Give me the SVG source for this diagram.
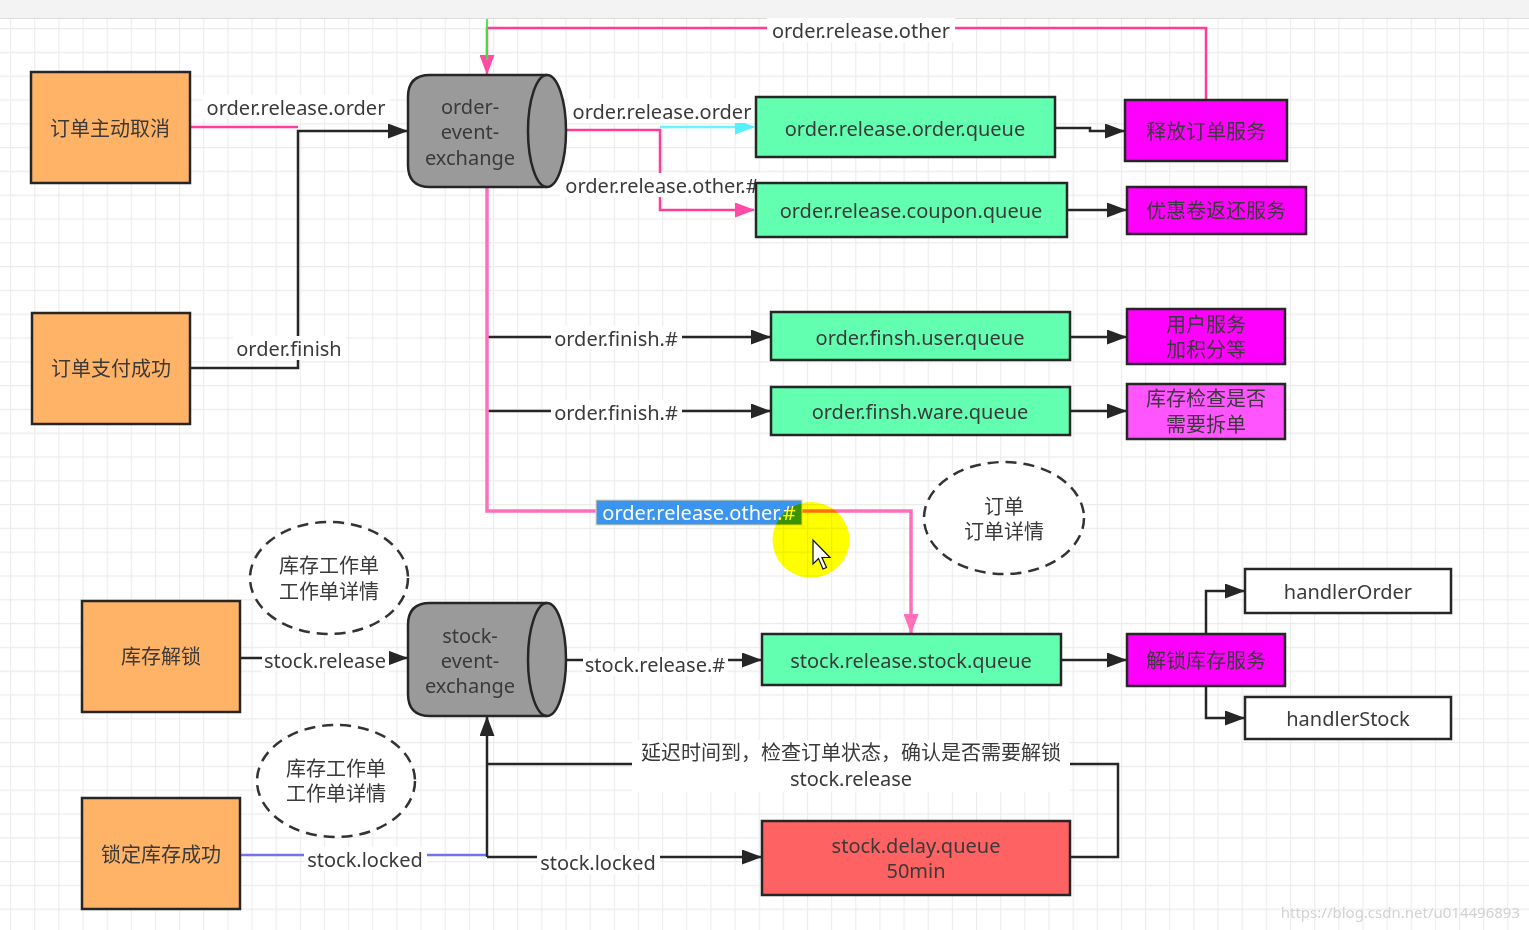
<svg xmlns="http://www.w3.org/2000/svg" width="1529" height="930" viewBox="0 0 1529 930">
<style>
.t{font-family:"Noto Sans","Noto Sans CJK SC",sans-serif;font-size:20px;fill:#3a3a3a;text-anchor:middle;dominant-baseline:central}
.box{stroke:#262626;stroke-width:2.5}
.or{fill:#FFB366}.gr{fill:#63FFB0}.mg{fill:#FF00FF}.mg2{fill:#FF55FF}.rd{fill:#FF6262}.wh{fill:#fff}.cy{fill:#9a9a9a}
.e{fill:none;stroke:#262626;stroke-width:2.5}
.pk{fill:none;stroke:#FF3D99;stroke-width:2.5}
.lb{fill:#fff}
.dash{fill:#fff;stroke:#333;stroke-width:2.5;stroke-dasharray:11 7}
</style>
<defs>
<pattern id="grid" x="10" y="28" width="24.15" height="23.8" patternUnits="userSpaceOnUse">
<path d="M0 0.5H24.15M0.5 0V23.8" stroke="#ececec" stroke-width="1.3" fill="none"/>
</pattern>
<marker id="ab" viewBox="0 0 20 15" refX="19" refY="7.5" markerWidth="20" markerHeight="15" markerUnits="userSpaceOnUse" orient="auto"><path d="M0,0L20,7.5L0,15z" fill="#262626"/></marker>
<marker id="ap" viewBox="0 0 20 15" refX="19" refY="7.5" markerWidth="20" markerHeight="15" markerUnits="userSpaceOnUse" orient="auto"><path d="M0,0L20,7.5L0,15z" fill="#FF4DA6"/></marker>
<marker id="ap2" viewBox="0 0 20 15" refX="19" refY="7.5" markerWidth="20" markerHeight="15" markerUnits="userSpaceOnUse" orient="auto"><path d="M0,0L20,7.5L0,15z" fill="#FF70B8"/></marker>
<marker id="ac" viewBox="0 0 20 15" refX="19" refY="7.5" markerWidth="20" markerHeight="15" markerUnits="userSpaceOnUse" orient="auto"><path d="M0,0L20,7.5L0,15z" fill="#55F0FF"/></marker>
</defs>
<rect width="1529" height="930" fill="#fff"/>
<rect y="19" width="1529" height="911" fill="url(#grid)"/>
<rect width="1529" height="18" fill="#f3f3f3"/>
<path d="M0 18.5H1529" stroke="#dcdcdc" stroke-width="1"/>

<g id="connectors">
<path class="pk" d="M190,127H298"/>
<path class="e" d="M190,368H298V131H407" marker-end="url(#ab)"/>
<path class="pk" d="M1206,100V28H487V74" marker-end="url(#ap)"/>
<path d="M487,19V60" stroke="#33EE33" stroke-width="1.8"/>
<path class="pk" d="M566,130H660V210H754" marker-end="url(#ap)"/>
<path d="M660,127H754" fill="none" stroke="#66F5FF" stroke-width="2.5" marker-end="url(#ac)"/>
<path class="e" d="M1056,128H1090V131H1124" marker-end="url(#ab)"/>
<path class="e" d="M1068,210H1126" marker-end="url(#ab)"/>
<path class="e" d="M1070,337H1126" marker-end="url(#ab)"/>
<path class="e" d="M1070,411H1126" marker-end="url(#ab)"/>
<path class="e" d="M487,337H770" marker-end="url(#ab)"/>
<path class="e" d="M487,411H770" marker-end="url(#ab)"/>
<path d="M487,187V511H911V633" fill="none" stroke="#FF70B8" stroke-width="3.5" marker-end="url(#ap2)"/>
<path class="e" d="M241,658H407" marker-end="url(#ab)"/>
<path class="e" d="M566,660H761" marker-end="url(#ab)"/>
<path class="e" d="M1061,660H1126" marker-end="url(#ab)"/>
<path class="e" d="M1206,633V591H1244" marker-end="url(#ab)"/>
<path class="e" d="M1206,687V718H1244" marker-end="url(#ab)"/>
<path d="M241,855H487" fill="none" stroke="#7272F2" stroke-width="2.5"/>
<path class="e" d="M487,857V717" marker-end="url(#ab)"/>
<path class="e" d="M487,857H761" marker-end="url(#ab)"/>
<path class="e" d="M1070,857H1118V764H487"/>
<g id="labels">
<rect class="lb" x="202" y="95" width="188" height="24"/><text class="t" x="296" y="107">order.release.order</text>
<rect class="lb" x="767" y="18" width="188" height="24"/><text class="t" x="861" y="30">order.release.other</text>
<rect class="lb" x="568" y="99" width="188" height="24"/><text class="t" x="662" y="111">order.release.order</text>
<rect class="lb" x="560" y="173" width="205" height="24"/><text class="t" x="662" y="185">order.release.other.#</text>
<rect class="lb" x="233" y="336" width="113" height="24"/><text class="t" x="289" y="348">order.finish</text>
<rect class="lb" x="551" y="326" width="131" height="24"/><text class="t" x="616" y="338">order.finish.#</text>
<rect class="lb" x="551" y="400" width="131" height="24"/><text class="t" x="616" y="412">order.finish.#</text>
<rect x="596" y="500" width="206" height="25" fill="#3A94F0" stroke="#F2D590" stroke-width="1"/><text class="t" x="699" y="512" style="fill:#fff">order.release.other.#</text>
<rect class="lb" x="262" y="648" width="127" height="24"/><text class="t" x="325" y="660">stock.release</text>
<rect class="lb" x="583" y="652" width="145" height="24"/><text class="t" x="655" y="664">stock.release.#</text>
<rect class="lb" x="304" y="847" width="123" height="24"/><text class="t" x="365" y="859">stock.locked</text>
<rect class="lb" x="537" y="850" width="123" height="24"/><text class="t" x="598" y="862">stock.locked</text>
<rect class="lb" x="632" y="740" width="438" height="52"/><text class="t" x="851" y="752">延迟时间到，检查订单状态，确认是否需要解锁</text><text class="t" x="851" y="778">stock.release</text>
</g>
</g>

<g id="n-cancel"><rect class="box or" x="31" y="72" width="159" height="111"/><text class="t" x="110" y="128">订单主动取消</text></g>
<g id="n-paid"><rect class="box or" x="32" y="313" width="158" height="111"/><text class="t" x="111" y="368">订单支付成功</text></g>
<g id="n-unlock"><rect class="box or" x="82" y="601" width="158" height="111"/><text class="t" x="161" y="656">库存解锁</text></g>
<g id="n-locked"><rect class="box or" x="82" y="798" width="158" height="111"/><text class="t" x="161" y="854">锁定库存成功</text></g>

<g id="n-order-exchange">
<path class="box cy" d="M430,75H547A19,56 0 0 1 547,187H430Q408,187 408,165V97Q408,75 430,75Z"/>
<path class="box" fill="none" d="M547,75A19,56 0 0 0 547,187"/>
<text class="t" x="470" y="106">order-</text><text class="t" x="470" y="131">event-</text><text class="t" x="470" y="157">exchange</text>
</g>
<g id="n-stock-exchange">
<path class="box cy" d="M430,603H547A19,56.5 0 0 1 547,716H430Q408,716 408,694V625Q408,603 430,603Z"/>
<path class="box" fill="none" d="M547,603A19,56.5 0 0 0 547,716"/>
<text class="t" x="470" y="635">stock-</text><text class="t" x="470" y="660">event-</text><text class="t" x="470" y="685">exchange</text>
</g>

<g id="q-release-order"><rect class="box gr" x="756" y="97" width="299" height="60"/><text class="t" x="905" y="128">order.release.order.queue</text></g>
<g id="q-coupon"><rect class="box gr" x="756" y="183" width="311" height="54"/><text class="t" x="911" y="210">order.release.coupon.queue</text></g>
<g id="q-user"><rect class="box gr" x="771" y="312" width="299" height="48"/><text class="t" x="920" y="337">order.finsh.user.queue</text></g>
<g id="q-ware"><rect class="box gr" x="771" y="387" width="299" height="48"/><text class="t" x="920" y="411">order.finsh.ware.queue</text></g>
<g id="q-stock"><rect class="box gr" x="762" y="634" width="299" height="51"/><text class="t" x="911" y="660">stock.release.stock.queue</text></g>
<g id="q-delay"><rect class="box rd" x="762" y="821" width="308" height="74"/><text class="t" x="916" y="845">stock.delay.queue</text><text class="t" x="916" y="870">50min</text></g>

<g id="s-release-order"><rect class="box mg" x="1125" y="100" width="162" height="61"/><text class="t" x="1206" y="131">释放订单服务</text></g>
<g id="s-coupon"><rect class="box mg" x="1127" y="187" width="179" height="47"/><text class="t" x="1216" y="210">优惠卷返还服务</text></g>
<g id="s-user"><rect class="box mg" x="1127" y="309" width="158" height="55"/><text class="t" x="1206" y="324">用户服务</text><text class="t" x="1206" y="349">加积分等</text></g>
<g id="s-ware"><rect class="box mg2" x="1127" y="384" width="158" height="55"/><text class="t" x="1206" y="398">库存检查是否</text><text class="t" x="1206" y="424">需要拆单</text></g>
<g id="s-unlock"><rect class="box mg" x="1127" y="634" width="158" height="52"/><text class="t" x="1206" y="660">解锁库存服务</text></g>
<g id="h-order"><rect class="box wh" x="1245" y="569" width="206" height="44"/><text class="t" x="1348" y="591">handlerOrder</text></g>
<g id="h-stock"><rect class="box wh" x="1245" y="697" width="206" height="42"/><text class="t" x="1348" y="718">handlerStock</text></g>

<g id="note-order"><ellipse class="dash" cx="1004" cy="518" rx="80" ry="56"/><text class="t" x="1004" y="506">订单</text><text class="t" x="1004" y="531">订单详情</text></g>
<g id="note-stock1"><ellipse class="dash" cx="329" cy="578" rx="79" ry="56"/><text class="t" x="329" y="565">库存工作单</text><text class="t" x="329" y="591">工作单详情</text></g>
<g id="note-stock2"><ellipse class="dash" cx="336" cy="781" rx="79" ry="56"/><text class="t" x="336" y="768">库存工作单</text><text class="t" x="336" y="793">工作单详情</text></g>

<ellipse cx="811" cy="540" rx="38.5" ry="38" fill="#FFFF00" style="mix-blend-mode:multiply"/>
<path d="M813,540V564L818.5,558.5L823,569L826.5,567.5L822,557.5H830Z" fill="#fff" stroke="#111" stroke-width="1.2"/>
<text x="1520" y="912" style="font-family:'Noto Sans',sans-serif;font-size:15px;fill:#d2d2d2;text-anchor:end;dominant-baseline:central">https://blog.csdn.net/u014496893</text>
</svg>
